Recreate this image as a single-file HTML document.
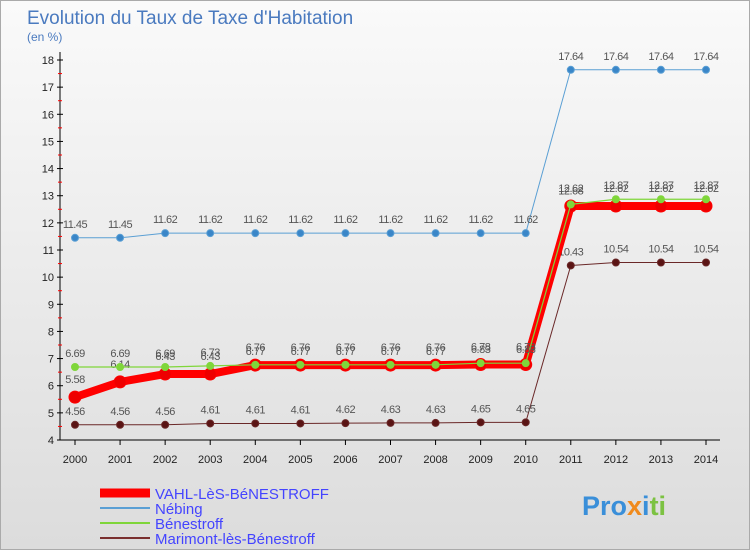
<!DOCTYPE html>
<html><head><meta charset="utf-8"><style>
body{margin:0;width:750px;height:550px;overflow:hidden;font-family:"Liberation Sans",sans-serif}
#wrap{position:relative;width:748px;height:548px;border:1px solid #aaa;background:linear-gradient(#fafafa,#dcdcdc)}
</style></head><body>
<div id="wrap">
<svg id="chart" width="750" height="550" style="position:absolute;left:-1px;top:-1px">
<text x="27" y="24" font-size="19" fill="#4a7abf">Evolution du Taux de Taxe d'Habitation</text>
<text x="27" y="41" font-size="12" fill="#4a7abf">(en %)</text>
<g id="axes"></g><g id="series"></g>
<g font-size="15">
<line x1="100" y1="493" x2="150" y2="493" stroke="#f00" stroke-width="9"/>
<text x="155" y="499" fill="#44f">VAHL-LèS-BéNESTROFF</text>
<line x1="100" y1="508" x2="150" y2="508" stroke="#5a9fd4" stroke-width="2"/>
<text x="155" y="514" fill="#44f">Nébing</text>
<line x1="100" y1="523" x2="150" y2="523" stroke="#7fd63a" stroke-width="2"/>
<text x="155" y="529" fill="#44f">Bénestroff</text>
<line x1="100" y1="538" x2="150" y2="538" stroke="#7a3030" stroke-width="2"/>
<text x="155" y="544" fill="#44f">Marimont-lès-Bénestroff</text>
</g>
<text x="582" y="515" font-size="27" font-weight="bold"><tspan fill="#3a8fd9">Pro</tspan><tspan fill="#f08a1c">x</tspan><tspan fill="#3a8fd9">i</tspan><tspan fill="#7cc242">ti</tspan></text>
</svg>
</div>
<script>
const years=[2000,2001,2002,2003,2004,2005,2006,2007,2008,2009,2010,2011,2012,2013,2014];
const yTicks=[4,5,6,7,8,9,10,11,12,13,14,15,16,17,18];
const vahl=[5.58,6.14,6.43,6.43,6.76,6.76,6.76,6.76,6.76,6.78,6.78,12.62,12.62,12.62,12.62];
const nebing=[11.45,11.45,11.62,11.62,11.62,11.62,11.62,11.62,11.62,11.62,11.62,17.64,17.64,17.64,17.64];
const benestroff=[6.69,6.69,6.69,6.73,6.77,6.77,6.77,6.77,6.77,6.83,6.83,12.68,12.87,12.87,12.87];
const marimont=[4.56,4.56,4.56,4.61,4.61,4.61,4.62,4.63,4.63,4.65,4.65,10.43,10.54,10.54,10.54];
const NS='http://www.w3.org/2000/svg';
const xS=i=>75+i*(631/14);
const yS=v=>440-(v-4)*(380/14);
function mk(t,a,p){const e=document.createElementNS(NS,t);for(const k in a)e.setAttribute(k,a[k]);p.appendChild(e);return e;}
const ax=document.getElementById('axes'),sr=document.getElementById('series');
const yl=mk('line',{x1:60,y1:52,x2:60,y2:440,stroke:'#000'},ax);


const xl=mk('line',{x1:60,y1:440,x2:720,y2:440,stroke:'#000'},ax);


yTicks.forEach(v=>{
 mk('line',{x1:57,y1:yS(v),x2:63,y2:yS(v),stroke:'#000'},ax);
 if(v<18)mk('line',{x1:58,y1:yS(v+0.5),x2:62,y2:yS(v+0.5),stroke:'#f00'},ax);
 const t=mk('text',{x:54,y:yS(v)+4,'font-size':11,'text-anchor':'end',fill:'#222'},ax);t.textContent=v;
 
 
});
years.forEach((y,i)=>{
 mk('line',{x1:xS(i),y1:440,x2:xS(i),y2:445,stroke:'#000'},ax);
 const t=mk('text',{x:xS(i),y:463,'font-size':11,'text-anchor':'middle',fill:'#222'},ax);t.textContent=y;
 
 
});
function series(data,color,w,r,name,fill,lblOff){
 const g=mk('g',{},sr);
 
 
 mk('polyline',{points:data.map((v,i)=>xS(i)+','+yS(v)).join(' '),fill:'none',stroke:color,'stroke-width':w,'stroke-linejoin':'round'},g);
 data.forEach((v,i)=>{
  const c=mk('circle',{cx:xS(i),cy:yS(v),r:r,fill:fill,stroke:color,'stroke-width':1},g);
  
  
  const t=mk('text',{x:xS(i),y:yS(v)+lblOff,'font-size':11,'text-anchor':'middle',fill:'#555','letter-spacing':'-0.5'},g);t.textContent=v;
  
  
 });
}
series(marimont,'#6a2828',1,3.5,'series-marimont','#5a1414',-10);
series(nebing,'#5a9fd4',1,3.5,'series-nebing','#3a86c8',-10);
series(vahl,'#f00',8,6,'series-vahl','#e00',-14);
series(benestroff,'#7fd63a',1.2,3.5,'series-benestroff','#7fd63a',-10);
</script>
</body></html>
